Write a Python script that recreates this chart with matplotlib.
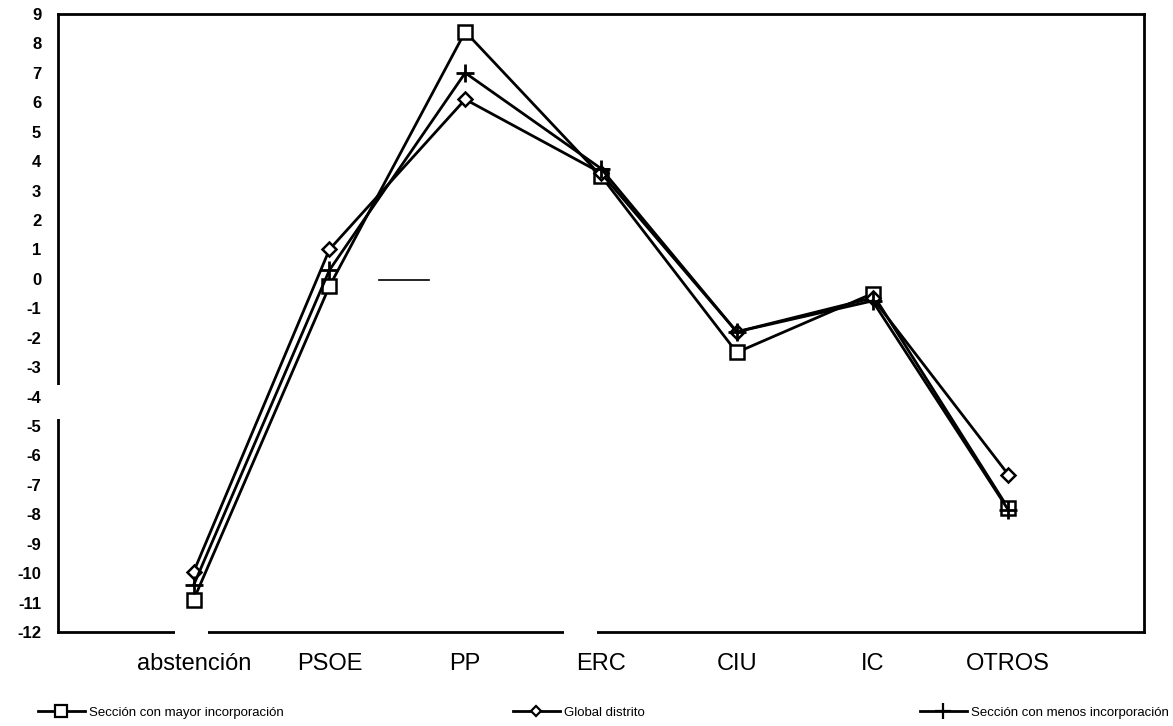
import numpy as np
import matplotlib
matplotlib.use('Agg')
import matplotlib.pyplot as plt
from matplotlib.lines import Line2D
from matplotlib.patches import Rectangle

plt.rcParams['font.family'] = ['Liberation Sans', 'DejaVu Sans']

categorias = ['abstención', 'PSOE', 'PP', 'ERC', 'CIU', 'IC', 'OTROS']
mayor = [-10.9, -0.25, 8.4, 3.5, -2.5, -0.5, -7.8]
global_distrito = [-9.95, 1.0, 6.1, 3.6, -1.8, -0.65, -6.65]
menos = [-10.4, 0.3, 7.0, 3.75, -1.8, -0.75, -7.85]
nombres = ['Sección con mayor incorporación', 'Global distrito',
           'Sección con menos incorporación']
yticks = list(range(-12, 10))

fig = plt.figure(figsize=(11.73, 7.26), dpi=100)
ax = fig.add_axes([0.0494, 0.1295, 0.9259, 0.8512])

x = np.arange(len(categorias))
ax.plot(x, mayor, color='black', lw=2, marker='s', ms=10, mfc='white',
        mec='black', mew=1.8, zorder=3)
ax.plot(x, global_distrito, color='black', lw=2, marker='D', ms=7, mfc='white',
        mec='black', mew=1.8, zorder=3)
ax.plot(x, menos, color='black', lw=2, marker='+', ms=13, mec='black',
        mew=2, zorder=4)

ax.set_xlim(-1, 7)
ax.set_ylim(-12, 9)
ax.set_yticks(yticks)
ax.set_yticklabels([str(v) for v in yticks], fontsize=12, fontweight='bold')
ax.set_xticks(x)
ax.set_xticklabels(categorias, fontsize=17)
ax.tick_params(axis='y', length=0, pad=12)
ax.tick_params(axis='x', length=0, pad=15)
for s in ax.spines.values():
    s.set_linewidth(2)

# huecos del escaneo en los ejes
for (x0, y0, w, h) in [(-1.1, -4.76, 0.2, 1.16), (-0.14, -12.4, 0.245, 0.8),
                       (2.73, -12.4, 0.24, 0.8)]:
    ax.add_patch(Rectangle((x0, y0), w, h, facecolor='white', edgecolor='none',
                           clip_on=False, zorder=10))
ax.plot([1.365, 1.73], [-0.05, -0.05], color='black', lw=1.2, zorder=2)

# leyenda
handles = [
    Line2D([], [], color='black', lw=2, marker='s', ms=8, mfc='white', mec='black', mew=1.6),
    Line2D([], [], color='black', lw=2, marker='D', ms=5.5, mfc='white', mec='black', mew=1.6),
    Line2D([], [], color='black', lw=2, marker='+', ms=12, mec='black', mew=1.6),
]
xs = [0.032, 0.437, 0.784]
for h, n, xx in zip(handles, nombres, xs):
    fig.legend([h], [n], loc='center left', bbox_to_anchor=(xx, 0.018),
               frameon=False, fontsize=9.5, handlelength=3.6, handletextpad=0.3,
               borderpad=0, borderaxespad=0)

fig.savefig('out.png', dpi=100)
